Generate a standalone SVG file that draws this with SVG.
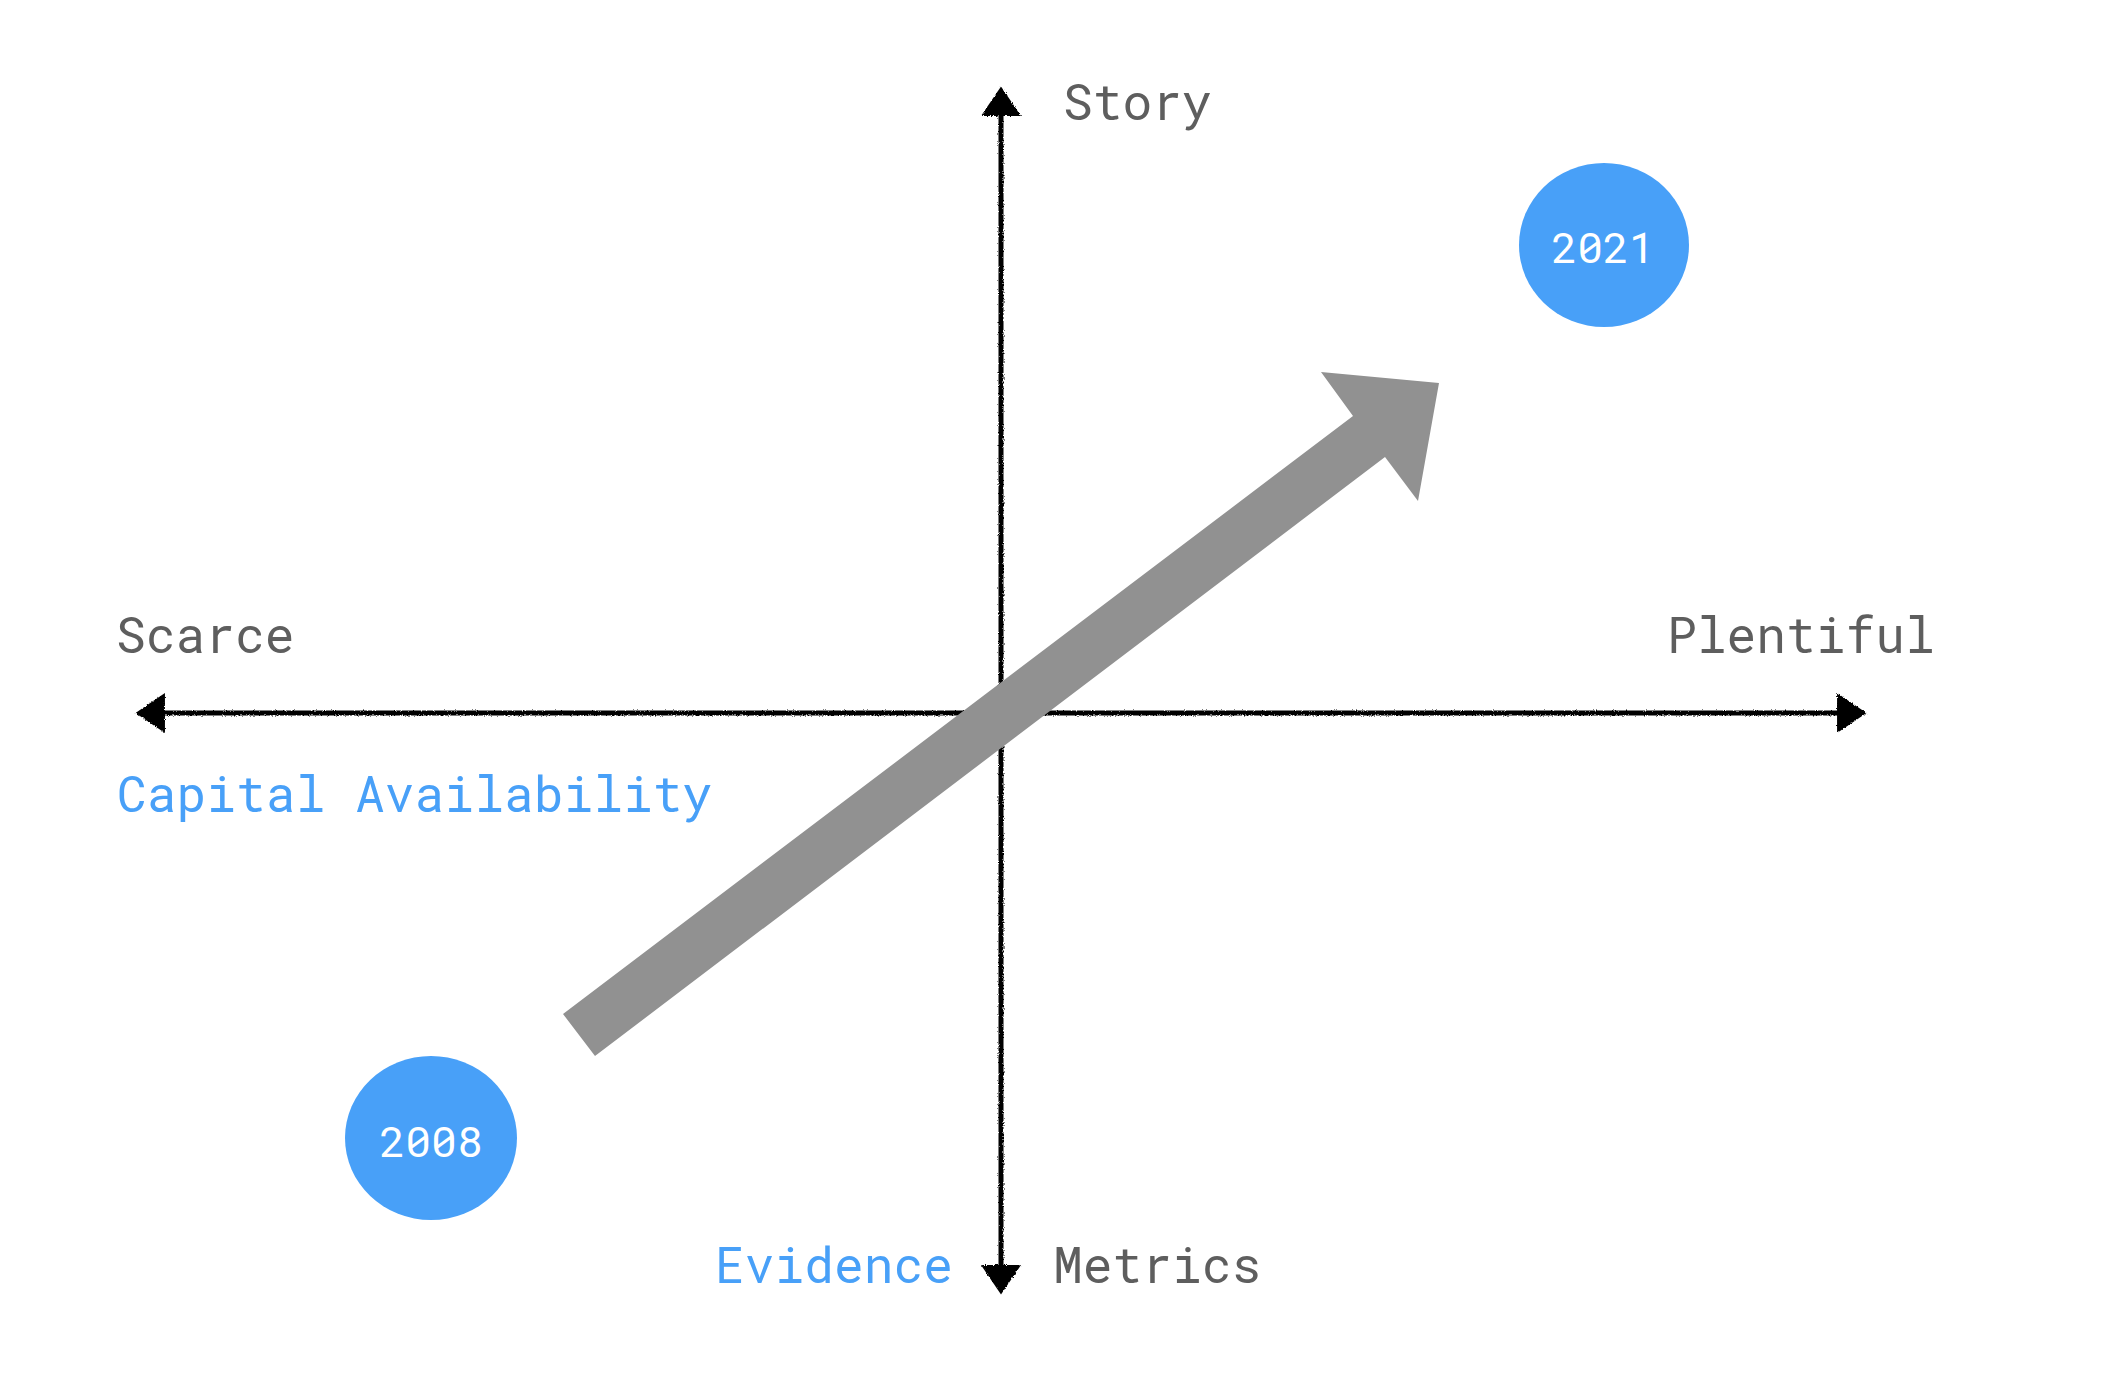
<svg xmlns="http://www.w3.org/2000/svg" width="2118" height="1380" viewBox="0 0 2118 1380">
  <style>
    .lbl { font-family: "Roboto Mono", "DejaVu Sans Mono", "Liberation Mono", monospace; font-size: 49.6px; }
    .gray { fill: #5e5e5e; }
    .blue { fill: #48a0f8; }
    .yr { font-family: "Roboto Mono", "DejaVu Sans Mono", "Liberation Mono", monospace; font-size: 43px; fill: #ffffff; text-anchor: middle; }
    .axis { stroke: #000000; stroke-width: 5; fill: none; }
    .node { fill: #48a0f8; }
  </style>
  <defs>
    <filter id="rough" filterUnits="userSpaceOnUse" x="0" y="0" width="2118" height="1380">
      <feTurbulence type="fractalNoise" baseFrequency="0.9" numOctaves="2" seed="3" result="n"/>
      <feDisplacementMap in="SourceGraphic" in2="n" scale="3" xChannelSelector="R" yChannelSelector="G"/>
    </filter>
    <marker id="head" markerUnits="userSpaceOnUse" markerWidth="30" markerHeight="40" viewBox="0 0 28 38" refX="18" refY="19" orient="auto-start-reverse">
      <path d="M0,0 L28,19 L0,38 z" fill="#000000"/>
    </marker>
  </defs>
  <rect width="2118" height="1380" fill="#ffffff"/>

  <g id="connectors">
    <g id="axes" filter="url(#rough)">
      <line id="axis-x" class="axis" x1="146" y1="713" x2="1856" y2="713" marker-start="url(#head)" marker-end="url(#head)"/>
      <line id="axis-y" class="axis" x1="1001" y1="97" x2="1001" y2="1284" marker-start="url(#head)" marker-end="url(#head)"/>
    </g>
    <polygon id="trend-arrow" fill="#919191" points="563,1014 1353,416 1321,372 1439,383 1418,501 1385,457 595,1056"/>
  </g>

  <g id="labels">
    <text class="lbl gray" x="1063" y="120">Story</text>
    <text class="lbl gray" x="116" y="653">Scarce</text>
    <text class="lbl gray" x="1667" y="653">Plentiful</text>
    <text class="lbl blue" x="117" y="812">Capital Availability</text>
    <text class="lbl blue" x="715" y="1283">Evidence</text>
    <text class="lbl gray" x="1053" y="1283">Metrics</text>
  </g>

  <g id="node-2021">
    <ellipse class="node" cx="1604" cy="245" rx="85" ry="82"/>
    <text class="yr" x="1603" y="263">2021</text>
  </g>
  <g id="node-2008">
    <ellipse class="node" cx="431" cy="1138" rx="86" ry="82"/>
    <text class="yr" x="431" y="1157">2008</text>
  </g>
</svg>
